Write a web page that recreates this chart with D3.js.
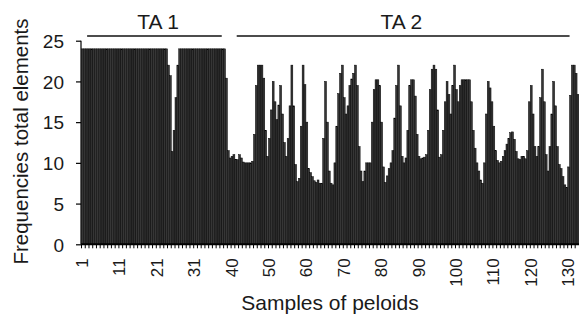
<!DOCTYPE html>
<html><head><meta charset="utf-8">
<script src="https://cdn.jsdelivr.net/npm/d3@7"></script>
<style>
body{margin:0;background:#fff;}
svg{display:block;}
text{font-family:"Liberation Sans",Arial,Helvetica,sans-serif;fill:#1a1a1a;}
</style>
</head><body>
<svg id="chart" width="579" height="316"></svg>
<script>
// ---- data ----
const samples = d3.range(1, 134); // 133 samples of peloids
const seriesA = [24,24,24,24,24,24,24,24,24,24, 24,24,24,24,24,24,24,24,24,24, 24,24,24,22,11.4,18,24,24,24,24,
  24,24,24,24,24,24,24,24,24,11.5, 10.8,10.4,11,10.1,10,10,13.5,22,22,14,
  13,20,15.3,19.5,12.5,13,22,9.8,8.1,22, 15,8.8,7.8,7.9,7.5,20,9,7.3,14.5,21,
  18,17,20.3,22,12,7.7,10,10,19,20.2, 15,7.6,9.3,11.5,19.5,17,10,14,20.2,18.2,
  10.8,10.6,11,19,22,16.5,11,17.5,18.4,19.5, 19,19.5,20.2,20.2,17.5,11.8,9,7.5,16,19.2,
  14.5,10.3,10.2,11.5,13,13.8,11.4,10.4,10.8,11.5, 19.5,12,12,21.5,11,12,20,12,9.3,7.3,
  9.5,22,21];
const seriesB = [24,24,24,24,24,24,24,24,24,24, 24,24,24,24,24,24,24,24,24,24, 24,24,24,20.7,14,22,24,24,24,24,
  24,24,24,24,24,24,24,24,20.4,10.6, 11,10.4,10.6,10,10,10.2,19.5,22,20.4,10.8,
  16.5,17.5,17.1,16,10.8,17,17,7.7,14.5,19.6, 9.3,8.3,7.6,7.5,13,15,7.5,10,18.5,22,
  16,19.5,21,19.5,9,9,10,15,20.2,19.5, 9.5,8.4,10,15.5,22,10.8,10.6,19.5,20.2,13.5,
  10.5,10.7,14,21.5,21.5,10.7,14,20,16,22, 17.5,20.2,20.2,20.2,14,10,7.9,10,20,17.5,
  11.5,10,10.8,12.3,13.7,12.9,10.5,10.8,10.5,17.5, 16,10.8,18,17.5,9,16,17,9.8,8.3,7,
  18.3,22,18.4];
const seriesNames = ["A", "B"];
const xTickLabels = ["1","11","21","31","40","50","60","70","80","90","100","110","120","130"];
const yTickValues = [0, 5, 10, 15, 20, 25];
const groupLabels = ["TA 1", "TA 2"];
const groupFirst = [2, 42];
const groupLast = [38, 131];
const groupLabelAt = [21, 86];

(function () {
  const svg = d3.select("#chart");
  const mLeft = 81.5, mTop = 40.7, mBottom = 244.3, W = 579;
  const bw = 3.74;
  const x = d3.scaleBand().domain(samples).range([mLeft, mLeft + samples.length * bw]).padding(0);
  const xs = d3.scaleBand().domain(seriesNames).range([0, x.bandwidth()]).padding(0);
  const y = d3.scaleLinear().domain([0, 25]).range([mBottom, mTop]);

  const rows = samples.map((s, i) => ({s, vals: [seriesA[i], seriesB[i]]}));

  const g = svg.append("g");
  rows.forEach(r => {
    r.vals.forEach((v, k) => {
      g.append("rect")
        .attr("x", x(r.s) + xs(seriesNames[k]))
        .attr("y", y(v))
        .attr("width", xs.bandwidth())
        .attr("height", y(0) - y(v))
        .attr("fill", "#363636")
        .attr("stroke", "#000")
        .attr("stroke-width", 0.5);
    });
  });

  // y axis
  const yAxis = svg.append("g").attr("transform", `translate(${mLeft - 0.5},0)`)
    .call(d3.axisLeft(y).tickValues(yTickValues).tickSize(5).tickPadding(12).tickFormat(d3.format("d")));
  yAxis.select(".domain").attr("stroke", "#000").attr("stroke-width", 1.2).attr("d", `M0,${mBottom}V${mTop}`);
  yAxis.selectAll(".tick line").attr("stroke", "#000").attr("stroke-width", 1.2);
  yAxis.selectAll(".tick text").style("font-size", "19px").attr("fill", "#1a1a1a").attr("dy", "0.36em");

  // x axis
  const labelled = samples.filter((s, i) => i % 10 === 0);
  const xAxis = svg.append("g").attr("transform", `translate(0,${mBottom})`)
    .call(d3.axisBottom(x).tickValues(samples).tickSize(4).tickFormat(s => {
      const k = labelled.indexOf(s);
      return k >= 0 ? xTickLabels[k] : "";
    }));
  xAxis.select(".domain").attr("stroke", "#000").attr("stroke-width", 2).attr("d", `M${mLeft - 0.5},0H${W}`);
  xAxis.selectAll(".tick line").attr("stroke", "#000").attr("stroke-width", 1).attr("transform", `translate(${-x.bandwidth()/2},0)`);
  xAxis.selectAll(".tick text")
    .style("font-size", "17px").attr("fill", "#1a1a1a")
    .attr("transform", "rotate(-90)")
    .attr("x", -14).attr("y", -1.5).attr("dy", "0.36em")
    .style("text-anchor", "end");

  // group brackets
  groupLabels.forEach((lab, i) => {
    const x0 = x(groupFirst[i]) + x.bandwidth() / 2;
    const x1 = x(groupLast[i]) + x.bandwidth() / 2;
    svg.append("line").attr("x1", x0).attr("x2", x1).attr("y1", 36).attr("y2", 36)
      .attr("stroke", "#111").attr("stroke-width", 1.4);
    svg.append("text").attr("x", x(groupLabelAt[i]) + x.bandwidth() / 2).attr("y", 28.5)
      .attr("text-anchor", "middle").style("font-size", "21px").text(lab);
  });

  // axis titles
  svg.append("text").attr("x", 330).attr("y", 310)
    .attr("text-anchor", "middle").style("font-size", "21px").text("Samples of peloids");
  svg.append("text").attr("transform", "translate(28,141.5) rotate(-90)")
    .attr("text-anchor", "middle").style("font-size", "20.5px").text("Frequencies total elements");
})();
</script>
</body></html>
